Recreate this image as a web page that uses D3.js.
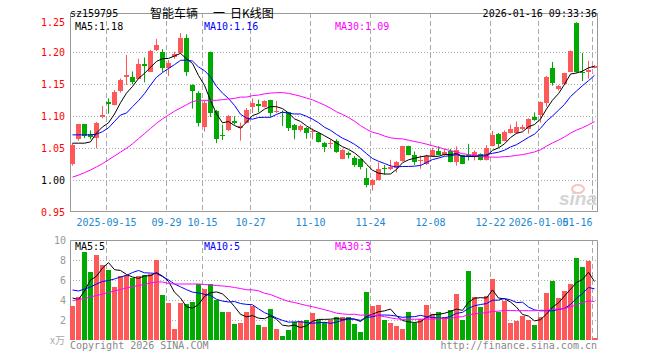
<!DOCTYPE html>
<html>
<head>
<meta charset="utf-8">
<script src="https://cdn.jsdelivr.net/npm/d3@7/dist/d3.min.js"></script>
<style>
	body { margin: 0; background: #fff; }
	svg { display: block; }
	text { font-family: "DejaVu Sans Mono", monospace; font-size: 10px; }
</style>
</head>
<body>
<div id="chart"></div>
<script>
/*DATA*/
const dates = [
	"2025-09-05","2025-09-08","2025-09-09","2025-09-10","2025-09-11","2025-09-12","2025-09-15","2025-09-16","2025-09-17","2025-09-18",
	"2025-09-19","2025-09-22","2025-09-23","2025-09-24","2025-09-25","2025-09-26","2025-09-29","2025-09-30","2025-10-09","2025-10-10",
	"2025-10-13","2025-10-14","2025-10-15","2025-10-16","2025-10-17","2025-10-20","2025-10-21","2025-10-22","2025-10-23","2025-10-24",
	"2025-10-27","2025-10-28","2025-10-29","2025-10-30","2025-10-31","2025-11-03","2025-11-04","2025-11-05","2025-11-06","2025-11-07",
	"2025-11-10","2025-11-11","2025-11-12","2025-11-13","2025-11-14","2025-11-17","2025-11-18","2025-11-19","2025-11-20","2025-11-21",
	"2025-11-24","2025-11-25","2025-11-26","2025-11-27","2025-11-28","2025-12-01","2025-12-02","2025-12-03","2025-12-04","2025-12-05",
	"2025-12-08","2025-12-09","2025-12-10","2025-12-11","2025-12-12","2025-12-15","2025-12-16","2025-12-17","2025-12-18","2025-12-19",
	"2025-12-22","2025-12-23","2025-12-24","2025-12-25","2025-12-26","2025-12-29","2025-12-30","2025-12-31","2026-01-05","2026-01-06",
	"2026-01-07","2026-01-08","2026-01-09","2026-01-12","2026-01-13","2026-01-14","2026-01-15","2026-01-16"
];
const opens = [
	1.026,1.064,1.088,1.072,1.066,1.099,1.122,1.118,1.139,1.162,
	1.162,1.159,1.181,1.170,1.203,1.200,1.176,1.193,1.199,1.223,
	1.149,1.137,1.083,1.200,1.108,1.071,1.079,1.093,1.082,1.090,
	1.114,1.120,1.115,1.125,1.107,1.107,1.106,1.087,1.078,1.082,
	1.075,1.074,1.059,1.057,1.062,1.034,1.042,1.035,1.033,1.003,
	0.993,1.001,1.019,1.017,1.020,1.030,1.053,1.039,1.030,1.025,
	1.038,1.046,1.039,1.046,1.029,1.039,1.039,1.038,1.041,1.031,
	1.054,1.073,1.062,1.074,1.074,1.080,1.080,1.099,1.102,1.121,
	1.175,1.142,1.150,1.170,1.246,1.170,1.170,1.176
];
const highs = [
	1.058,1.088,1.088,1.078,1.091,1.116,1.128,1.141,1.159,1.196,
	1.170,1.190,1.192,1.204,1.221,1.205,1.188,1.201,1.230,1.228,
	1.150,1.139,1.125,1.201,1.110,1.087,1.102,1.100,1.090,1.113,
	1.128,1.126,1.125,1.126,1.124,1.109,1.107,1.088,1.087,1.083,
	1.081,1.075,1.060,1.064,1.064,1.049,1.045,1.038,1.034,1.019,
	1.002,1.028,1.024,1.032,1.030,1.054,1.054,1.045,1.039,1.040,
	1.051,1.053,1.049,1.049,1.053,1.040,1.057,1.047,1.042,1.055,
	1.077,1.074,1.078,1.087,1.092,1.087,1.097,1.106,1.123,1.163,
	1.185,1.149,1.168,1.203,1.247,1.199,1.187,1.180
];
const lows = [
	1.023,1.062,1.066,1.064,1.050,1.097,1.104,1.117,1.137,1.149,
	1.150,1.158,1.153,1.169,1.202,1.169,1.163,1.190,1.198,1.163,
	1.112,1.084,1.076,1.099,1.058,1.063,1.077,1.087,1.062,1.089,
	1.105,1.106,1.114,1.099,1.105,1.085,1.077,1.064,1.076,1.065,
	1.064,1.059,1.044,1.050,1.043,1.033,1.034,1.021,1.017,0.989,
	0.984,1.000,1.009,1.016,1.012,1.029,1.039,1.024,1.018,1.024,
	1.037,1.039,1.038,1.028,1.023,1.025,1.031,1.031,1.031,1.031,
	1.053,1.051,1.061,1.073,1.072,1.078,1.073,1.093,1.090,1.115,
	1.148,1.140,1.149,1.169,1.168,1.155,1.159,1.175
];
const closes = [
	1.055,1.088,1.069,1.068,1.090,1.102,1.120,1.138,1.156,1.165,
	1.154,1.182,1.179,1.202,1.212,1.175,1.184,1.198,1.223,1.169,
	1.139,1.090,1.121,1.105,1.064,1.069,1.100,1.090,1.085,1.110,
	1.121,1.116,1.124,1.105,1.109,1.106,1.082,1.078,1.085,1.074,
	1.077,1.060,1.052,1.059,1.044,1.047,1.040,1.024,1.021,0.993,
	1.001,1.017,1.017,1.021,1.029,1.053,1.040,1.029,1.032,1.038,
	1.048,1.040,1.045,1.029,1.048,1.026,1.038,1.044,1.031,1.050,
	1.071,1.057,1.076,1.080,1.083,1.083,1.096,1.094,1.122,1.162,
	1.152,1.147,1.167,1.202,1.170,1.167,1.173,1.179
];
//volume in 10k lots
const volumes = [
	3.43,4.30,8.83,6.83,8.50,7.50,7.03,5.30,6.43,6.50,
	6.23,6.37,6.50,6.57,8.03,4.50,3.70,1.10,3.70,3.63,
	3.77,5.57,5.10,5.57,4.03,2.77,2.77,1.57,1.70,2.77,
	3.37,1.50,1.30,3.10,1.10,0.43,1.03,1.77,1.90,1.97,
	2.70,1.97,1.77,2.00,2.30,2.30,2.30,1.57,0.77,4.83,
	3.43,3.50,2.03,1.70,1.43,1.10,2.83,1.70,2.10,3.50,
	2.65,2.83,2.30,3.03,4.63,2.03,6.90,4.30,3.30,4.45,
	6.10,2.83,3.90,1.70,1.90,2.43,2.03,1.50,2.30,4.70,
	5.90,4.20,4.90,5.63,8.17,7.30,7.90,0.23
];
//moving-average values before enough history is on the chart
const ma5Head = [1.058,1.058,1.058,1.060];
const ma10Head = [1.071,1.071,1.071,1.071,1.072,1.076,1.082,1.092,1.102];
const ma30Head = [
	1.005,1.008,1.012,1.016,1.021,1.026,1.032,1.038,1.044,1.050,
	1.057,1.065,1.073,1.081,1.089,1.096,1.102,1.108,1.113,1.118,
	1.123,1.125,1.125,1.125,1.125,1.126,1.127,1.128,1.130
];
const vma5Head = [4.20,4.05,4.90,6.00];
const vma10Head = [5.00,4.90,5.10,5.30,5.60,5.85,5.95,6.10,6.30];
const vma30Head = [
	3.93,4.05,4.15,4.30,4.45,4.60,4.75,4.90,5.05,5.20,
	5.33,5.45,5.57,5.70,5.80,5.80,5.65,5.60,5.60,5.60,
	5.60,5.60,5.55,5.50,5.45,5.40,5.35,5.25,5.15
];

const priceTicks = [1.25,1.20,1.15,1.10,1.05,1.00,0.95];
const priceTickColors = ["#f00","#f00","#f00","#f00","#f00","#000","#f00"];
const volTicks = [10,8,6,4,2];
const labelDates = ["2025-09-15","2025-09-29","2025-10-15","2025-10-27","2025-11-10","2025-11-24","2025-12-08","2025-12-22","2026-01-05","2026-01-16"];
const labelTexts = ["2025-09-15","09-29","10-15","10-27","11-10","11-24","12-08","12-22","2026-01-05","01-16"];
const titleParts = ["智能车辆", "一", "日K线图"];

/////////////////////////////////////////////////////////////////////////////
//STYLING
const W = 660, H = 360;
const left = 70, right = 597;
const price = { top: 13, bottom: 211.5, y0: 212.3, y1: 20.3 };
const vol = { top: 240, bottom: 340 };
const UP = '#ff5858', DOWN = '#00aa00';
const MA_COLORS = ['#000000', '#0000ff', '#ff00ff'];

const movingAvg = (values, n, head) =>
	values.map((v, i) => i < n - 1 ? head[i] : d3.mean(values.slice(i - n + 1, i + 1)));

const ma = [movingAvg(closes, 5, ma5Head), movingAvg(closes, 10, ma10Head), movingAvg(closes, 30, ma30Head)];
const vma = [movingAvg(volumes, 5, vma5Head), movingAvg(volumes, 10, vma10Head), movingAvg(volumes, 30, vma30Head)];

const svg = d3.select('#chart').append('svg')
	.attr('width', W)
	.attr('height', H);

//SCALES
const x = d3.scaleBand()
	.domain(d3.range(dates.length))
	.range([left, right])
	.paddingInner(1 / 6)
	.paddingOuter(0);
const cx = i => x(i) + 2.5;
const y = d3.scaleLinear().domain([0.95, 1.25]).range([price.y0, price.y1]);
const yv = d3.scaleLinear().domain([0, 10]).range([vol.bottom, vol.top]);

//GRID
const grid = svg.append('g');
const gridIdx = labelDates.map(d => dates.indexOf(d));

grid.selectAll('line.hp')
	.data(priceTicks.slice(1, -1))
	.join('line')
	.attr('x1', left).attr('x2', right)
	.attr('y1', d => Math.round(y(d)) + 0.5).attr('y2', d => Math.round(y(d)) + 0.5)
	.attr('stroke', '#aaa').attr('stroke-dasharray', '1,2');

grid.selectAll('line.hv')
	.data(volTicks.slice(1))
	.join('line')
	.attr('x1', left).attr('x2', right)
	.attr('y1', d => Math.round(yv(d)) + 0.5).attr('y2', d => Math.round(yv(d)) + 0.5)
	.attr('stroke', '#aaa').attr('stroke-dasharray', '1,2');

[[price.top, price.bottom], [vol.top, vol.bottom]].forEach(([t, b]) => {
	grid.append('g').selectAll('line')
		.data(gridIdx)
		.join('line')
		.attr('x1', i => x(i) + 0.5).attr('x2', i => x(i) + 0.5)
		.attr('y1', t).attr('y2', b)
		.attr('stroke', '#aaa').attr('stroke-dasharray', '5,3');
});

//FRAMES
svg.append('rect')
	.attr('x', left + 0.5).attr('y', price.top + 0.5)
	.attr('width', right - left).attr('height', price.bottom - price.top - 0.5)
	.attr('fill', 'none').attr('stroke', '#999');
svg.append('path')
	.attr('d', `M${left + 0.5},${vol.bottom}V${vol.top + 0.5}H${right + 0.5}V${vol.bottom}`)
	.attr('fill', 'none').attr('stroke', '#999');

//WATERMARK
const wm = svg.append('g');
wm.append('ellipse')
	.attr('cx', 578).attr('cy', 189).attr('rx', 6).attr('ry', 4)
	.attr('fill', 'none').attr('stroke', '#f5c4c4').attr('stroke-width', 2);
wm.append('text')
	.attr('x', 597).attr('y', 205).attr('text-anchor', 'end')
	.style('font-family', 'Liberation Sans, sans-serif')
	.style('font-size', '19px').style('font-weight', 'bold').style('font-style', 'italic')
	.attr('fill', '#d4d4d4')
	.text('sina');

//CANDLES
const color = i => closes[i] >= opens[i] ? UP : DOWN;
const idx = d3.range(dates.length);
const candles = svg.append('g');

candles.selectAll('line')
	.data(idx)
	.join('line')
	.attr('x1', cx).attr('x2', cx)
	.attr('y1', i => y(highs[i])).attr('y2', i => y(lows[i]))
	.attr('stroke', color);

candles.selectAll('rect')
	.data(idx)
	.join('rect')
	.attr('x', i => x(i))
	.attr('width', x.bandwidth())
	.attr('y', i => y(Math.max(opens[i], closes[i])))
	.attr('height', i => Math.max(1, Math.abs(y(opens[i]) - y(closes[i]))))
	.attr('fill', color)
	.attr('shape-rendering', 'crispEdges');

//VOLUME BARS
svg.append('g').selectAll('rect')
	.data(idx)
	.join('rect')
	.attr('x', i => x(i))
	.attr('width', x.bandwidth())
	.attr('y', i => yv(volumes[i]))
	.attr('height', i => yv(0) - yv(volumes[i]))
	.attr('fill', color)
	.attr('shape-rendering', 'crispEdges');

//MOVING AVERAGES
const priceLine = d3.line().x((d, i) => cx(i)).y(d => y(d));
const volLine = d3.line().x((d, i) => cx(i)).y(d => yv(d));

svg.append('g').selectAll('path')
	.data(ma)
	.join('path')
	.attr('d', priceLine)
	.attr('fill', 'none')
	.attr('stroke', (d, k) => MA_COLORS[k]);

svg.append('g').selectAll('path')
	.data(vma)
	.join('path')
	.attr('d', volLine)
	.attr('fill', 'none')
	.attr('stroke', (d, k) => MA_COLORS[k]);

//TEXTS
const names = ['MA5', 'MA10', 'MA30'];
const labelX = [75, 204, 335];
const last = a => a[a.length - 1];

svg.append('g').selectAll('text')
	.data(ma)
	.join('text')
	.attr('x', (d, k) => labelX[k]).attr('y', 29.5)
	.attr('fill', (d, k) => MA_COLORS[k])
	.text((d, k) => `${names[k]}:${d3.format('.2f')(last(d))}`);

svg.append('g').selectAll('text')
	.data(vma)
	.join('text')
	.attr('x', (d, k) => labelX[k]).attr('y', 250)
	.attr('fill', (d, k) => MA_COLORS[k])
	.text((d, k) => `${names[k]}:${Math.floor(last(d))}`);

svg.append('g').selectAll('text')
	.data(priceTicks)
	.join('text')
	.attr('x', 65).attr('text-anchor', 'end')
	.attr('y', (d, k) => k === 0 ? 26 : y(d) + 4)
	.attr('fill', (d, k) => priceTickColors[k])
	.text(d => d3.format('.2f')(d));

svg.append('g').selectAll('text')
	.data(volTicks)
	.join('text')
	.attr('x', 66).attr('text-anchor', 'end')
	.attr('y', d => yv(d) + 4)
	.attr('fill', '#999')
	.text(d => d);

svg.append('text')
	.attr('x', 65).attr('y', 344).attr('text-anchor', 'end')
	.style('font-family', 'Noto Sans CJK SC').style('font-size', '10px')
	.attr('fill', '#aaa')
	.text('x万');

svg.append('g').selectAll('text')
	.data(labelTexts)
	.join('text')
	.attr('x', (d, k) => x(gridIdx[k]) + 0.5)
	.attr('y', 226)
	.attr('text-anchor', (d, k) => k === labelTexts.length - 1 ? 'end' : 'middle')
	.attr('fill', '#1e88d2')
	.text(d => d);

svg.append('text')
	.attr('x', 70).attr('y', 17)
	.attr('fill', '#000')
	.text('sz159795');
//title pieces are spaced like the original header
svg.append('g').selectAll('text')
	.data(titleParts)
	.join('text')
	.attr('x', (d, k) => [150, 213, 230][k])
	.attr('y', 17.5)
	.style('font-family', 'Noto Sans CJK SC').style('font-size', '12px')
	.attr('fill', '#000')
	.text(d => d);
svg.append('text')
	.attr('x', 597).attr('y', 16.5).attr('text-anchor', 'end')
	.attr('fill', '#000')
	.text('2026-01-16 09:33:36');

svg.append('text')
	.attr('x', 70).attr('y', 349)
	.attr('fill', '#888')
	.text('Copyright 2026 SINA.COM');
svg.append('text')
	.attr('x', 597).attr('y', 349).attr('text-anchor', 'end')
	.attr('fill', '#888')
	.text('http://finance.sina.com.cn');
</script>
</body>
</html>
